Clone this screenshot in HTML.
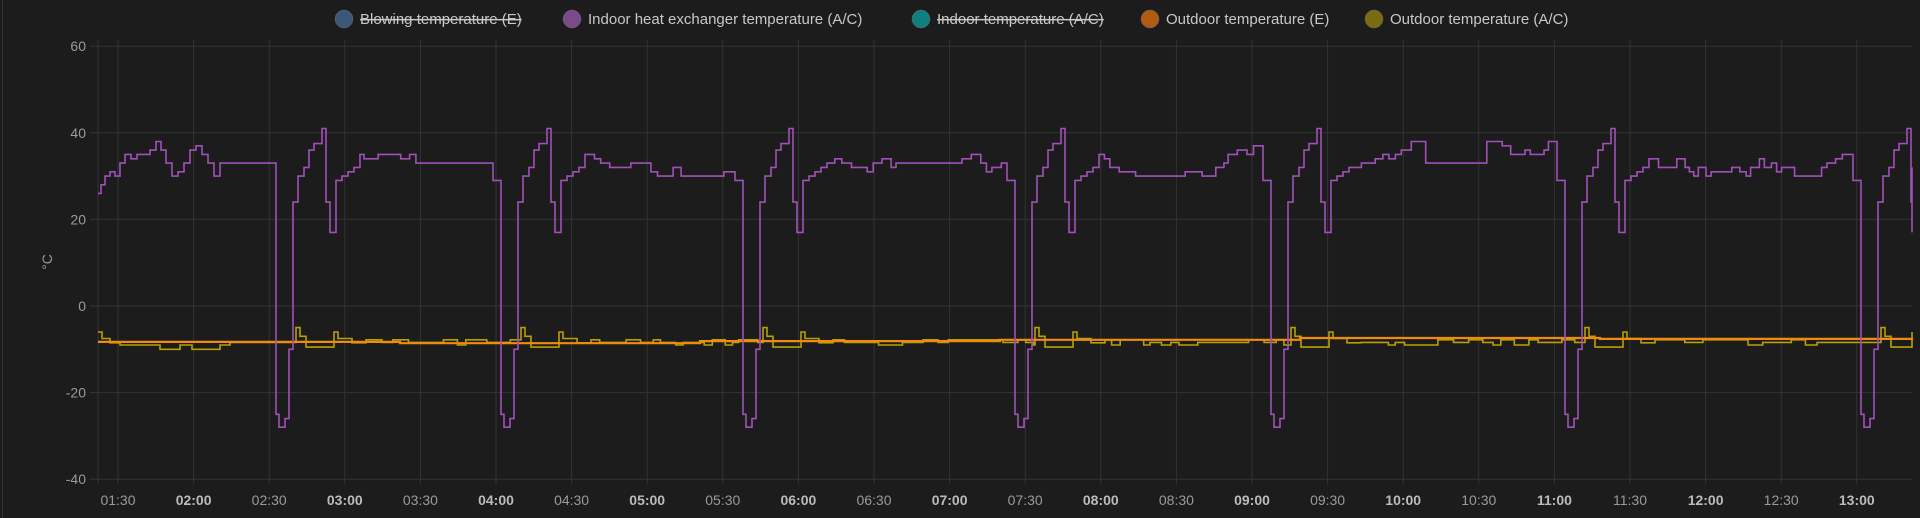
<!DOCTYPE html>
<html><head><meta charset="utf-8"><style>
html,body{margin:0;padding:0;background:#1c1c1c;}
body{width:1920px;height:518px;overflow:hidden;position:relative;font-family:"Liberation Sans",sans-serif;}
#lb{position:absolute;left:2px;top:0;width:1px;height:518px;background:#333;}
</style></head><body>
<div id="lb"></div>
<svg id="s" width="1920" height="518" style="position:absolute;left:0;top:0">
<g id="grid" stroke="#333" stroke-width="1"></g>
<g id="lab" font-family="Liberation Sans, sans-serif" font-size="14" fill="#9a9a9a"></g>
<g id="leg" font-family="Liberation Sans, sans-serif" font-size="15" fill="#c8c8c8"></g>
<g id="ser" fill="none" stroke-width="1.6"></g>
</svg>
<script>
var NS="http://www.w3.org/2000/svg";
function el(p,t,a,txt){var e=document.createElementNS(NS,t);for(var k in a)e.setAttribute(k,a[k]);if(txt!=null)e.textContent=txt;document.getElementById(p).appendChild(e);return e;}
var L=98,R=1912;
function Y(v){return 306-v*4.33;}
[60,40,20,0,-20,-40].forEach(function(v){var y=Y(v);el("grid","line",{x1:L-8,x2:R,y1:y,y2:y});
el("lab","text",{x:86,y:y+5,"text-anchor":"end"},v);});
var labs=["01:30","02:00","02:30","03:00","03:30","04:00","04:30","05:00","05:30","06:00","06:30","07:00","07:30","08:00","08:30","09:00","09:30","10:00","10:30","11:00","11:30","12:00","12:30","13:00"];
labs.forEach(function(t,i){var x=118+i*75.6;el("grid","line",{x1:x,x2:x,y1:40,y2:484});
var tx=el("lab","text",{x:x,y:505,"text-anchor":"middle"},t);if(t.slice(3)=="00"){tx.setAttribute("font-weight","bold");tx.setAttribute("fill","#bbb");}});
el("grid","line",{x1:L,x2:L,y1:40,y2:484});
el("lab","text",{x:52,y:262,transform:"rotate(-90 52 262)","text-anchor":"middle"},"°C");
var items=[["Blowing temperature (E)","#3b5878",1,344],["Indoor heat exchanger temperature (A/C)","#7a4a8a",0,572],["Indoor temperature (A/C)","#10807e",1,921],["Outdoor temperature (E)","#b05a12",0,1150],["Outdoor temperature (A/C)","#7a6a10",0,1374]];
items.forEach(function(it){el("leg","circle",{cx:it[3],cy:19,r:9,fill:it[1],stroke:"#666","stroke-width":0.5});
el("leg","text",{x:it[3]+16,y:24,"text-decoration":it[2]?"line-through":"none"},it[0]);});
var seed=7;function rnd(){seed=(seed*16807)%2147483647;return seed/2147483647;}
var d=[276,501,743,1015,1271,1565,1861];
var pts=[[98,26],[101,28],[105,30],[110,31],[115,30],[120,33],[125,35],[131,34],[137,35],[143,35],[150,36],[156,38],[161,36],[166,33],[172,30],[178,31],[184,33],[190,36],[196,37],[202,35],[208,33],[214,30],[220,33]];
d.forEach(function(xd,i){
 pts.push([xd,-25],[xd+3,-28],[xd+9,-26],[xd+13,-10],[xd+17,24],[xd+22,30],[xd+28,32],[xd+33,36],[xd+38,37.5],[xd+46,41],[xd+50,24],[xd+54,17],[xd+60,29],[xd+66,30],[xd+72,31],[xd+78,32]);
 var xn=(i+1<d.length)?d[i+1]:1935,x=xd+84,flat=(i%2==0),cur=33;
 while(x<xn-12){var w=4+rnd()*6;var v;
  if(flat&&x>xd+150&&x<xd+215)v=33;else{cur+=(rnd()-0.5)*4;cur=Math.max(30,Math.min(37.5,cur));v=cur;}
  pts.push([x,Math.round(v)]);x+=w;}
 pts.push([xn-8,29]);
});
function stepPath(p,lim){var s="M"+p[0][0]+","+Y(p[0][1]).toFixed(1);for(var i=1;i<p.length;i++){var x=Math.min(p[i][0],lim);s+="H"+x.toFixed(1)+"V"+Y(p[i][1]).toFixed(1);}return s+"H"+lim;}
var yp=[[98,-6],[102,-7.5],[110,-8.5],[120,-9],[140,-9],[160,-10],[180,-9],[192,-10],[220,-9]];
var x=230;
d.forEach(function(xd,i){
 while(x<xd+20){yp.push([x,-9+Math.round(rnd()*2)*0.6]);x+=6+rnd()*10;}
 yp.push([xd+20,-5],[xd+24,-7],[xd+30,-9.5],[xd+58,-6],[xd+62,-7.5],[xd+76,-8.5]);x=xd+90;});
var orp=[[98,-8.3],[400,-8.6],[700,-8.1],[1000,-7.8],[1300,-7.4],[1600,-7.6],[1912,-7.8]];
el("ser","path",{d:stepPath(yp,R),stroke:"#b8a000"});
el("ser","path",{d:stepPath(orp,R),stroke:"#f08a10","stroke-width":2.2});
el("ser","path",{d:stepPath(pts,R),stroke:"#a050b8"});
</script>
</body></html>
